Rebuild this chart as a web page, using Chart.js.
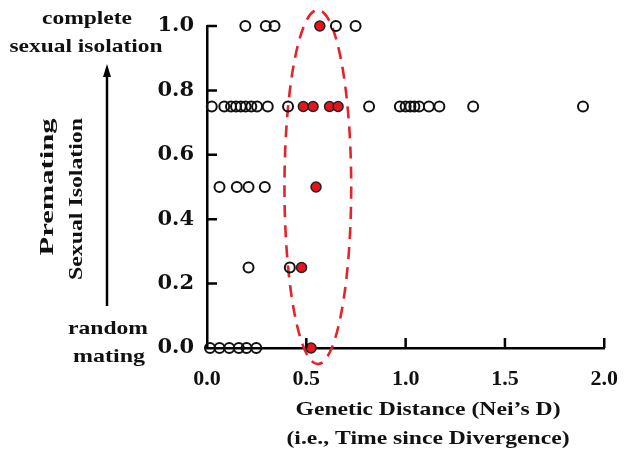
<!DOCTYPE html>
<html>
<head>
<meta charset="utf-8">
<script src="https://cdn.jsdelivr.net/npm/chart.js@4.4.1/dist/chart.umd.min.js"></script>
<style>
  html, body { margin: 0; padding: 0; background: #fff; }
  #wrap { width: 636px; height: 457px; }
</style>
</head>
<body>
<div id="wrap"><canvas id="c" width="636" height="457"></canvas></div>
<script>
// ---- tick labels ----
const xTickLabels = ['0.0', '0.5', '1.0', '1.5', '2.0'];
const yTickLabels = ['0.0', '0.2', '0.4', '0.6', '0.8', '1.0'];

// ---- data: genetic distance (x) for each isolation level (y) ----
const isoLevels = [1.0, 0.75, 0.5, 0.25, 0.0];
const openX_100 = [0.193, 0.296, 0.340, 0.649, 0.748];
const redX_100  = [0.568];
const openX_075 = [0.024, 0.087, 0.121, 0.146, 0.170, 0.194, 0.223, 0.252, 0.306, 0.408,
                   0.816, 0.971, 1.000, 1.024, 1.044, 1.068, 1.117, 1.170, 1.340, 1.893];
const redX_075  = [0.485, 0.534, 0.617, 0.660];
const openX_050 = [0.063, 0.150, 0.209, 0.291];
const redX_050  = [0.549];
const openX_025 = [0.209, 0.417];
const redX_025  = [0.476];
const openX_000 = [0.015, 0.063, 0.112, 0.160, 0.199, 0.248];
const redX_000  = [0.524];

// highlighted cluster ellipse (data units)
const ellipseCenter = [0.558, 0.50];
const ellipseRadii  = [0.168, 0.55];

const openRows = [openX_100, openX_075, openX_050, openX_025, openX_000];
const redRows  = [redX_100, redX_075, redX_050, redX_025, redX_000];
const toPoints = rows => rows.flatMap((r, i) => r.map(x => ({ x: x, y: isoLevels[i] })));

const FONT = "'Liberation Serif', 'Times New Roman', serif";

const ellipsePlugin = {
  id: 'ellipse',
  beforeDatasetsDraw(chart) {
    const { ctx, scales: { x, y } } = chart;
    const cx = x.getPixelForValue(ellipseCenter[0]);
    const cy = y.getPixelForValue(ellipseCenter[1]);
    const rx = x.getPixelForValue(ellipseCenter[0] + ellipseRadii[0]) - cx;
    const ry = cy - y.getPixelForValue(ellipseCenter[1] + ellipseRadii[1]);
    ctx.save();
    ctx.strokeStyle = '#e3242b';
    ctx.lineWidth = 2.6;
    ctx.setLineDash([12, 8]);
    ctx.beginPath();
    ctx.ellipse(cx, cy, rx, ry, 0, 0, Math.PI * 2);
    ctx.stroke();
    ctx.restore();
  }
};

const ticksPlugin = {
  id: 'inTicks',
  afterDraw(chart) {
    const { ctx, scales: { x, y } } = chart;
    ctx.save();
    ctx.strokeStyle = '#000';
    ctx.lineWidth = 2.5;
    ctx.beginPath();
    x.ticks.forEach(t => {
      if (t.value === 0) return;
      const px = x.getPixelForValue(t.value);
      ctx.moveTo(px, y.bottom);
      ctx.lineTo(px, y.bottom - 10);
    });
    y.ticks.forEach(t => {
      if (t.value === 0) return;
      const py = y.getPixelForValue(t.value);
      ctx.moveTo(x.left, py);
      ctx.lineTo(x.left + 10, py);
    });
    ctx.stroke();
    ctx.restore();
  }
};

// draw text centred at (cx, cy), stretched horizontally to a target width
function fitText(ctx, text, cx, cy, width, rot) {
  ctx.save();
  ctx.translate(cx, cy);
  if (rot) ctx.rotate(rot);
  const w = ctx.measureText(text).width;
  ctx.scale(width / w, 1);
  ctx.fillText(text, 0, 0);
  ctx.restore();
}

const annotPlugin = {
  id: 'annot',
  afterDraw(chart) {
    const { ctx } = chart;
    ctx.save();
    ctx.fillStyle = '#111';
    ctx.textAlign = 'center';
    ctx.textBaseline = 'middle';
    ctx.font = 'bold 19px ' + FONT;
    fitText(ctx, 'complete', 87, 19, 90);
    fitText(ctx, 'sexual isolation', 86, 47, 153);
    fitText(ctx, 'random', 108, 329, 80);
    fitText(ctx, 'mating', 109, 357, 72);
    // x axis title
    fitText(ctx, 'Genetic Distance (Nei\u2019s D)', 428, 410, 265);
    fitText(ctx, '(i.e., Time since Divergence)', 428, 439, 283);
    // rotated y title
    fitText(ctx, 'Premating', 48, 187, 137, -Math.PI / 2);
    fitText(ctx, 'Sexual Isolation', 77, 199, 162, -Math.PI / 2);
    // arrow
    ctx.strokeStyle = '#000';
    ctx.lineWidth = 2.5;
    ctx.beginPath();
    ctx.moveTo(107, 306);
    ctx.lineTo(107, 75);
    ctx.stroke();
    ctx.beginPath();
    ctx.moveTo(107, 64);
    ctx.lineTo(103, 77);
    ctx.lineTo(111, 77);
    ctx.closePath();
    ctx.fillStyle = '#000';
    ctx.fill();
    ctx.restore();
  }
};

new Chart(document.getElementById('c'), {
  type: 'scatter',
  data: {
    datasets: [
      {
        data: toPoints(openRows),
        pointRadius: 5,
        pointHoverRadius: 5,
        pointBorderWidth: 2,
        pointBorderColor: '#111',
        pointBackgroundColor: 'rgba(255,255,255,0)',
        clip: false
      },
      {
        data: toPoints(redRows),
        pointRadius: 5,
        pointHoverRadius: 5,
        pointBorderWidth: 1.5,
        pointBorderColor: '#222',
        pointBackgroundColor: '#e8141b',
        clip: false
      }
    ]
  },
  options: {
    responsive: false,
    animation: false,
    events: [],
    layout: { padding: { left: 0, right: 3, top: 26, bottom: 0 } },
    plugins: { legend: { display: false }, tooltip: { enabled: false } },
    scales: {
      x: {
        type: 'linear',
        min: 0, max: 2,
        grid: { display: false, drawTicks: false },
        border: { display: true, color: '#000', width: 2.5 },
        ticks: {
          stepSize: 0.5,
          padding: 18,
          color: '#111',
          font: { family: FONT, size: 22, weight: 'bold' },
          callback: (v, i) => xTickLabels[i]
        },
        afterFit: s => { s.height = 109; }
      },
      y: {
        type: 'linear',
        min: 0, max: 1,
        grid: { display: false, drawTicks: false },
        border: { display: true, color: '#000', width: 2.5 },
        ticks: {
          stepSize: 0.2,
          padding: 13,
          color: '#111',
          font: { family: "'DejaVu Serif', serif", size: 21, weight: 'bold' },
          callback: (v, i) => yTickLabels[i]
        },
        afterFit: s => { s.width = 207; }
      }
    }
  },
  plugins: [ellipsePlugin, ticksPlugin, annotPlugin]
});
</script>
</body>
</html>
